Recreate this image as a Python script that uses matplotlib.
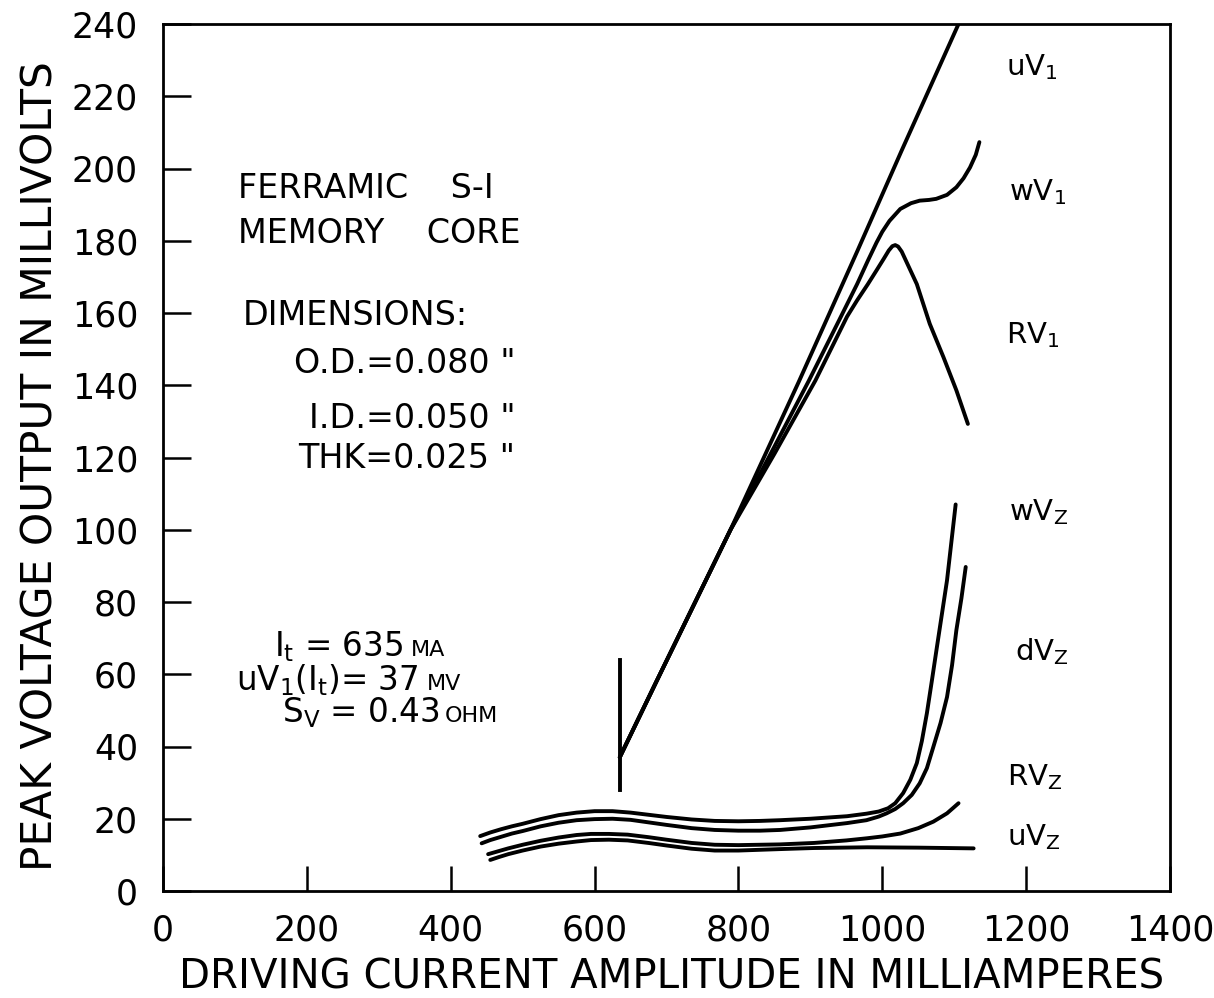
import matplotlib
matplotlib.use("Agg")
import matplotlib.pyplot as plt

plt.rcParams['font.family'] = ['DejaVu Sans']
plt.rcParams['mathtext.default'] = 'regular'

# ---------------- data (mA, mV) ----------------
x_ticks = [0, 200, 400, 600, 800, 1000, 1200, 1400]
y_ticks = [0, 20, 40, 60, 80, 100, 120, 140, 160, 180, 200, 220, 240]

threshold_x = 635
threshold_y = [28, 64]

uV1_x = [635, 686, 789, 884, 965, 1027, 1106]
uV1_y = [37, 58, 100, 141, 177, 205, 240]

wV1_x = [635, 686, 789, 850, 898, 940, 965, 980, 992, 1000, 1010, 1025, 1040, 1052, 1065, 1075,
         1090, 1103, 1113, 1122, 1130, 1135]
wV1_y = [37, 58, 100, 123, 141.3, 158, 168, 174.5, 179.5, 182.5, 185.5, 188.8, 190.4, 191.1, 191.3, 191.6,
         192.7, 194.8, 197.3, 200.3, 203.8, 207.3]

RV1_x = [635, 686, 789, 850, 907, 951, 965, 980, 992, 1002, 1009, 1014, 1018, 1022, 1027, 1034, 1048,
         1066, 1085, 1103, 1119]
RV1_y = [37, 58, 100, 121, 141.3, 159, 163.5, 168, 171.8, 175, 177.3, 178.5, 178.8, 178.4, 177.0, 174, 168,
         157, 147.8, 138.6, 129.3]

wVz_x = [441, 455, 470, 485, 500, 525, 550, 575, 600, 625, 650, 675, 700, 735, 767, 800, 830, 858, 900,
         951, 978, 995, 1008, 1018, 1029, 1039, 1048, 1055, 1062, 1069, 1076, 1083, 1090, 1096, 1102]
wVz_y = [15.2, 16.2, 17.1, 17.9, 18.6, 19.9, 21.0, 21.7, 22.1, 22.1, 21.7, 21.1, 20.5, 19.8, 19.4, 19.3,
         19.4, 19.6, 20.0, 20.7, 21.4, 22.0, 22.9, 24.3, 27.1, 30.8, 35.4, 41.5, 49.2, 58.3, 67.6, 76.8,
         86, 96.5, 107]

dVz_x = [443, 455, 470, 485, 500, 525, 550, 575, 600, 625, 650, 675, 700, 735, 767, 800, 830, 858, 900,
         951, 978, 995, 1006, 1018, 1029, 1041, 1052, 1062, 1071, 1081, 1090, 1097, 1103, 1110, 1116]
dVz_y = [13.2, 14.1, 15.0, 15.9, 16.6, 17.9, 18.9, 19.6, 19.9, 20.0, 19.7, 19.0, 18.3, 17.4, 16.9, 16.7,
         16.7, 16.9, 17.6, 18.8, 19.6, 20.6, 21.5, 22.7, 24.3, 26.6, 29.8, 34.0, 39.9, 46.5, 53.7, 62.5,
         72.2, 81, 89.7]

RVz_x = [452, 466, 480, 500, 525, 550, 575, 595, 620, 646, 675, 700, 735, 767, 800, 858, 905, 950, 979,
         1000, 1025, 1050, 1071, 1090, 1106]
RVz_y = [10.2, 11.0, 11.8, 12.8, 13.9, 14.8, 15.5, 15.8, 15.8, 15.6, 14.9, 14.2, 13.3, 12.8, 12.7, 12.9,
         13.3, 14.0, 14.6, 15.1, 15.9, 17.4, 19.2, 21.5, 24.3]

uVz_x = [455, 467, 480, 500, 525, 550, 575, 595, 620, 646, 675, 700, 735, 767, 800, 858, 905, 979, 1050, 1127]
uVz_y = [8.6, 9.4, 10.2, 11.2, 12.3, 13.1, 13.7, 14.1, 14.2, 14.0, 13.3, 12.6, 11.7, 11.2, 11.2, 11.6,
         11.9, 12.1, 12.0, 11.8]

curve_labels = [r"uV$_1$", r"wV$_1$", r"RV$_1$", r"wV$_\mathregular{Z}$",
                r"dV$_\mathregular{Z}$", r"RV$_\mathregular{Z}$", r"uV$_\mathregular{Z}$"]
label_x = [1172, 1176, 1172, 1176, 1184, 1173, 1173]
label_y = [225.7, 191.1, 151.6, 102.6, 63.9, 29.3, 12.7]

# ---------------- figure ----------------
fig = plt.figure(figsize=(12.14, 9.98), dpi=100)
ax = fig.add_axes([163/1214, 1-891/998, (1170-163)/1214, (891-24)/998])

lw = 2.8
for xs, ys in [(uV1_x, uV1_y), (wV1_x, wV1_y), (RV1_x, RV1_y),
               (wVz_x, wVz_y), (dVz_x, dVz_y), (RVz_x, RVz_y), (uVz_x, uVz_y)]:
    ax.plot(xs, ys, color='black', lw=lw, solid_capstyle='round', solid_joinstyle='round')
ax.plot([threshold_x, threshold_x], threshold_y, color='black', lw=lw)

ax.set_xlim(0, 1400)
ax.set_ylim(0, 240)
ax.set_xticks(x_ticks)
ax.set_yticks(y_ticks)
for s in ax.spines.values():
    s.set_linewidth(2.0)
ax.tick_params(axis='y', direction='in', length=20, width=1.8, pad=18, labelsize=25)
ax.tick_params(axis='x', direction='in', length=18, width=1.8, pad=16, labelsize=25)

ax.set_xlabel("DRIVING CURRENT AMPLITUDE IN MILLIAMPERES", fontsize=29, va='center')
ax.xaxis.set_label_coords(0.505, -0.1)
ax.set_ylabel("PEAK VOLTAGE OUTPUT IN MILLIVOLTS", fontsize=30.5, va='center')
ax.yaxis.set_label_coords(-0.122, 0.49)

# annotations
fs = 24
ax.text(104, 191.7, "FERRAMIC    S-I", fontsize=fs, va='baseline')
ax.text(104, 179.5, "MEMORY    CORE", fontsize=fs, va='baseline')
ax.text(111, 156.6, "DIMENSIONS:", fontsize=fs, va='baseline')
ax.text(490, 143.3, 'O.D.=0.080 "', fontsize=fs, va='baseline', ha='right')
ax.text(490, 128.3, 'I.D.=0.050 "', fontsize=fs, va='baseline', ha='right')
ax.text(490, 117.0, 'THK=0.025 "', fontsize=fs, va='baseline', ha='right')

fs2 = 23.5
t1 = ax.text(155, 65, r"I$_t$ = 635", fontsize=fs2, va='baseline')
ax.annotate("MA", xy=(1, 65), xycoords=(t1, 'data'), xytext=(5, 0),
            textcoords='offset points', fontsize=16, va='baseline')
t2 = ax.text(102, 55.6, r"uV$_1$(I$_t$)= 37", fontsize=fs2, va='baseline')
ax.annotate("MV", xy=(1, 55.6), xycoords=(t2, 'data'), xytext=(6, 0),
            textcoords='offset points', fontsize=16, va='baseline')
t3 = ax.text(165, 46.7, r"S$_\mathregular{V}$ = 0.43", fontsize=fs2, va='baseline')
ax.annotate("OHM", xy=(1, 46.7), xycoords=(t3, 'data'), xytext=(4, 0),
            textcoords='offset points', fontsize=16, va='baseline')

for lab, lx, ly in zip(curve_labels, label_x, label_y):
    ax.text(lx, ly, lab, fontsize=21, va='baseline')

fig.savefig("out.png", dpi=100, facecolor='white')
